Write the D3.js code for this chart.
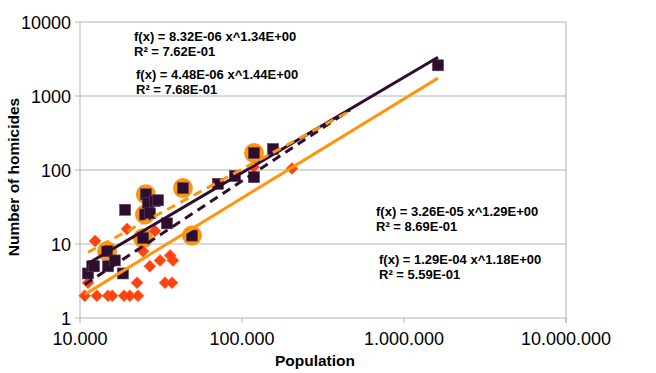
<!DOCTYPE html>
<html>
<head>
<meta charset="utf-8">
<script src="https://cdn.jsdelivr.net/npm/d3@7"></script>
<style>
  body { margin: 0; background: #fff; }
  text { font-family: "Liberation Sans", Arial, sans-serif; }
</style>
</head>
<body>
<svg id="chart" width="656" height="373"></svg>
<script>
"use strict";

// Towns: population vs number of homicides
const squarePop = [11200, 11900, 12200, 14700, 14900, 16400, 18400, 19000, 24500, 25200, 25500,
  26300, 27000, 29000, 30300, 34400, 43200, 49100, 71000, 90500, 118600, 118600, 155400, 1621000];
const squareHom = [4, 5, 5, 8, 5, 6, 4, 29, 12, 25, 47, 36, 26, 38, 39, 19, 57, 13, 65, 83, 170, 80, 192, 2600];

const diamondPop = [10700, 11200, 12400, 12700, 14900, 15800, 18700, 20300, 22800, 22500, 24500, 27000,
  31200, 36000, 37500, 33500, 37000, 19500, 29000, 118000, 203500, 1621000];
const diamondHom = [2, 3, 11, 2, 2, 2, 2, 2, 2, 3, 8, 5, 6, 7, 6, 3, 3, 16, 15, 110, 105, 2600];

// highlighted towns (orange circles)
const circlePop = [14700, 24500, 25200, 25500, 43200, 49100, 118600];
const circleHom = [8, 12, 25, 47, 57, 13, 170];

// trend lines f(x) = a * x^b
const trends = [
  { a: 8.32e-06, b: 1.34, r2: "7.62E-01", from: 10700, to: 1621000, color: "#ff950e", dash: null },
  { a: 4.48e-06, b: 1.44, r2: "7.68E-01", from: 10700, to: 464000, color: "#2e0e2e", dash: "9,6" },
  { a: 3.26e-05, b: 1.29, r2: "8.69E-01", from: 11200, to: 1621000, color: "#2e0e2e", dash: null },
  { a: 1.29e-04, b: 1.18, r2: "5.59E-01", from: 11200, to: 464000, color: "#ff950e", dash: "9,6" }
];
const eqLabels = ["f(x) = 8.32E-06 x^1.34E+00", "f(x) = 4.48E-06 x^1.44E+00",
  "f(x) = 3.26E-05 x^1.29E+00", "f(x) = 1.29E-04 x^1.18E+00"];
const eqPos = [[134, 41], [136, 79], [376, 216], [379, 264]];

const xTicks = [1e4, 1e5, 1e6, 1e7];
const xTickLabels = ["10.000", "100.000", "1.000.000", "10.000.000"];
const yTicks = [1, 10, 100, 1000, 10000];

const svg = d3.select("#chart");
const x = d3.scaleLog().domain([1e4, 1e7]).range([80, 566]);
const y = d3.scaleLog().domain([1, 1e4]).range([318, 22]);

// grid
svg.append("g").selectAll("line").data(yTicks).join("line")
  .attr("x1", 75).attr("x2", 566)
  .attr("y1", d => y(d)).attr("y2", d => y(d))
  .attr("stroke", "#b3b3b3").attr("stroke-width", 1);
svg.append("line").attr("x1", 80).attr("x2", 80).attr("y1", 22).attr("y2", 318)
  .attr("stroke", "#b3b3b3");
svg.append("line").attr("x1", 566).attr("x2", 566).attr("y1", 22).attr("y2", 323)
  .attr("stroke", "#b3b3b3");
svg.append("g").selectAll("line").data(xTicks).join("line")
  .attr("x1", d => x(d)).attr("x2", d => x(d))
  .attr("y1", 318).attr("y2", 323)
  .attr("stroke", "#b3b3b3");

// tick labels
svg.append("g").selectAll("text").data(yTicks).join("text")
  .attr("x", 71).attr("y", d => y(d) + 6.5)
  .attr("text-anchor", "end").attr("font-size", 18)
  .text(d => d);
svg.append("g").selectAll("text").data(xTicks).join("text")
  .attr("x", d => x(d)).attr("y", 345)
  .attr("text-anchor", "middle").attr("font-size", 18)
  .text((d, i) => xTickLabels[i]);

// axis titles
svg.append("text").attr("x", 315).attr("y", 366)
  .attr("text-anchor", "middle").attr("font-size", 15.5).attr("font-weight", "bold")
  .text("Population");
svg.append("text").attr("transform", "translate(19,177) rotate(-90)")
  .attr("text-anchor", "middle").attr("font-size", 15.5).attr("font-weight", "bold")
  .text("Number of homicides");

// points
svg.append("g").selectAll("circle").data(circlePop).join("circle")
  .attr("cx", d => x(d)).attr("cy", (d, i) => y(circleHom[i]))
  .attr("r", 10).attr("fill", "#ff950e");

svg.append("g").selectAll("path").data(diamondPop).join("path")
  .attr("transform", (d, i) => `translate(${x(d)},${y(diamondHom[i])})`)
  .attr("d", "M0,-6L6,0L0,6L-6,0Z")
  .attr("fill", "#ff420e").attr("stroke", "#ff6a3a").attr("stroke-width", 0.6);

svg.append("g").selectAll("rect").data(squarePop).join("rect")
  .attr("x", d => x(d) - 5.5).attr("y", (d, i) => y(squareHom[i]) - 5.5)
  .attr("width", 11).attr("height", 11)
  .attr("fill", "#2e0e2e").attr("stroke", "#5c3c5c").attr("stroke-width", 0.6);

// trend lines
const line = d3.line().x(d => x(d[0])).y(d => y(d[1]));
svg.append("g").selectAll("path").data(trends).join("path")
  .attr("d", t => line([t.from, t.to].map(p => [p, t.a * Math.pow(p, t.b)])))
  .attr("fill", "none").attr("stroke", t => t.color).attr("stroke-width", 3)
  .attr("stroke-dasharray", t => t.dash);

// equations
const eq = svg.append("g").selectAll("text").data(trends).join("text")
  .attr("x", (d, i) => eqPos[i][0]).attr("y", (d, i) => eqPos[i][1])
  .attr("font-size", 13).attr("font-weight", "bold");
eq.append("tspan").text((d, i) => eqLabels[i]);
eq.append("tspan").attr("x", (d, i) => eqPos[i][0]).attr("dy", 15)
  .text(d => "R² = " + d.r2);
</script>
</body>
</html>
